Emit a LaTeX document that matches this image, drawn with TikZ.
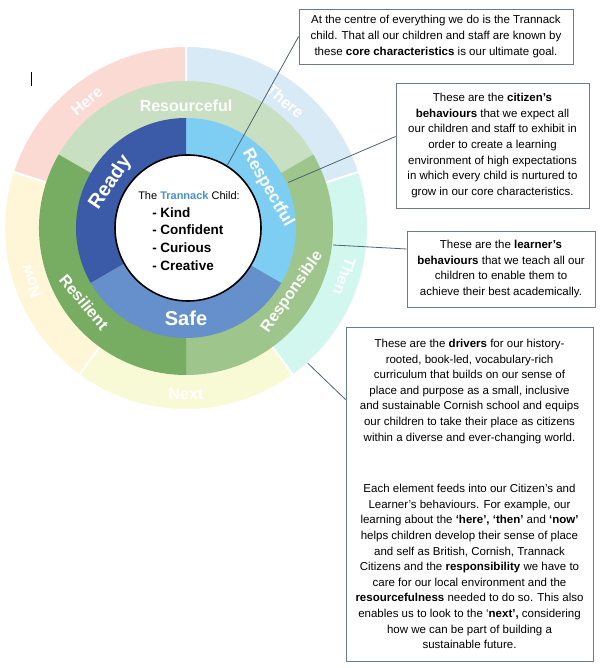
\documentclass[tikz,border=0pt]{standalone}
\usepackage{fontspec}
\setmainfont{Liberation Sans}
\usetikzlibrary{positioning}

\definecolor{readyblue}{HTML}{3B5BA9}
\definecolor{respectblue}{HTML}{7ECEF4}
\definecolor{safeblue}{HTML}{6690CB}
\definecolor{resourcegreen}{HTML}{C8DFC1}
\definecolor{responsiblegreen}{HTML}{9EC58C}
\definecolor{resilientgreen}{HTML}{76AD63}
\definecolor{herepink}{HTML}{FCDAD4}
\definecolor{thereblue}{HTML}{D8EAF5}
\definecolor{thenmint}{HTML}{D2F7EE}
\definecolor{nextyellow}{HTML}{F8FAD6}
\definecolor{nowcream}{HTML}{FEF6D6}
\definecolor{trannack}{HTML}{4A8FD8}
\definecolor{boxgray}{HTML}{6B7B89}
\definecolor{pointergray}{HTML}{4E6272}

\tikzstyle{outer_seg} = [
    draw=white,
    line width=2pt
]
\tikzstyle{outer_label} = [
    white,
    font=\bfseries\fontsize{16}{16}\selectfont,
    inner sep=0pt
]
\tikzstyle{middle_label} = [
    white,
    font=\bfseries\fontsize{16}{16}\selectfont,
    inner sep=0pt
]
\tikzstyle{inner_label} = [
    white,
    font=\bfseries\fontsize{20}{20}\selectfont,
    inner sep=0pt
]
\tikzstyle{child_node} = [
    circle,
    draw=black,
    fill=white,
    line width=1.6pt,
    inner sep=0pt,
    minimum size=146pt
]
\tikzstyle{info_box} = [
    draw=boxgray,
    fill=white,
    line width=0.8pt,
    align=center,
    inner sep=0pt,
    font=\fontsize{11.5}{15.6}\selectfont
]
\tikzstyle{pointer} = [
    draw=pointergray,
    line width=0.8pt
]

\begin{document}
\begin{tikzpicture}[x=1pt, y=1pt]
\useasboundingbox (0,0) rectangle (602,668);
\coordinate (C) at (186,440);

% drivers
\fill[herepink, outer_seg] (C) -- ++(90:182pt) arc[start angle=90, end angle=162, radius=182pt] -- cycle;
\fill[thereblue, outer_seg] (C) -- ++(18:182pt) arc[start angle=18, end angle=90, radius=182pt] -- cycle;
\fill[thenmint, outer_seg] (C) -- ++(-54:182pt) arc[start angle=-54, end angle=18, radius=182pt] -- cycle;
\fill[nextyellow, outer_seg] (C) -- ++(-126:182pt) arc[start angle=-126, end angle=-54, radius=182pt] -- cycle;
\fill[nowcream, outer_seg] (C) -- ++(162:182pt) arc[start angle=162, end angle=234, radius=182pt] -- cycle;

% learner's behaviours
\fill[resourcegreen] (C) -- ++(30:147pt) arc[start angle=30, end angle=150, radius=147pt] -- cycle;
\fill[responsiblegreen] (C) -- ++(-90:147pt) arc[start angle=-90, end angle=30, radius=147pt] -- cycle;
\fill[resilientgreen] (C) -- ++(150:147pt) arc[start angle=150, end angle=270, radius=147pt] -- cycle;

% citizen's behaviours
\fill[respectblue] (C) -- ++(-30:110pt) arc[start angle=-30, end angle=90, radius=110pt] -- cycle;
\fill[readyblue] (C) -- ++(90:110pt) arc[start angle=90, end angle=210, radius=110pt] -- cycle;
\fill[safeblue] (C) -- ++(210:110pt) arc[start angle=210, end angle=330, radius=110pt] -- cycle;

\node[child_node] (child) at (188,440) {};
\node[align=left, font=\bfseries\fontsize{13.5}{17.7}\selectfont] (traits) at (189,437) {%
    {\mdseries\fontsize{11}{16}\selectfont The \textcolor{trannack}{\bfseries Trannack} Child:}\\
    \hspace*{14pt}- Kind\\
    \hspace*{14pt}- Confident\\
    \hspace*{14pt}- Curious\\
    \hspace*{14pt}- Creative};

\node[outer_label, rotate=40] (here) at ([shift={(128:161pt)}]C) {Here};
\node[outer_label, rotate=-40] (there) at ([shift={(52:161pt)}]C) {There};
\node[outer_label, rotate=-110] (then) at ([shift={(-17:166pt)}]C) {Then};
\node[outer_label] (next) at ([shift={(-90:166pt)}]C) {Next};
\node[outer_label, rotate=110] (now) at ([shift={(199:164pt)}]C) {Now};

\node[middle_label] (resourceful) at ([shift={(90:122pt)}]C) {Resourceful};
\node[middle_label, rotate=55] (responsible) at ([shift={(-31:124pt)}]C) {Responsible};
\node[middle_label, rotate=-50] (resilient) at ([shift={(216:126pt)}]C) {Resilient};

\node[inner_label, rotate=56] (ready) at ([shift={(149:88pt)}]C) {Ready};
\node[inner_label, rotate=-60, font=\bfseries\fontsize{17}{17}\selectfont] (respectful) at ([shift={(26:91pt)}]C) {Respectful};
\node[inner_label] (safe) at ([shift={(-90:90pt)}]C) {Safe};

\node[info_box, minimum width=274pt, minimum height=55pt] (core) at (436,631.5) {%
    At the centre of everything we do is the Trannack\\
    child. That all our children and staff are known by\\
    these \textbf{core characteristics} is our ultimate goal.};
\node[info_box, minimum width=193pt, minimum height=125pt] (citizen) at (492.5,522.5) {%
    These are the \textbf{citizen’s}\\
    \textbf{behaviours} that we expect all\\
    our children and staff to exhibit in\\
    order to create a learning\\
    environment of high expectations\\
    in which every child is nurtured to\\
    grow in our core characteristics.};
\node[info_box, minimum width=188pt, minimum height=76pt] (learner) at (501,399) {%
    These are the \textbf{learner’s}\\
    \textbf{behaviours} that we teach all our\\
    children to enable them to\\
    achieve their best academically.};
\node[info_box, minimum width=247pt, minimum height=334pt] (drivers) at (469.5,174) {%
    These are the \textbf{drivers} for our history-\\
    rooted, book-led, vocabulary-rich\\
    curriculum that builds on our sense of\\
    place and purpose as a small, inclusive\\
    and sustainable Cornish school and equips\\
    our children to take their place as citizens\\
    within a diverse and ever-changing world.\\[36pt]
    Each element feeds into our Citizen’s and\\
    Learner’s behaviours. For example, our\\
    learning about the \textbf{‘here’, ‘then’} and \textbf{‘now’}\\
    helps children develop their sense of place\\
    and self as British, Cornish, Trannack\\
    Citizens and the \textbf{responsibility} we have to\\
    care for our local environment and the\\
    \textbf{resourcefulness} needed to do so. This also\\
    enables us to look to the ‘\textbf{next’,} considering\\
    how we can be part of building a\\
    sustainable future.};

\coordinate (citizen_ring) at ([shift={(24:112pt)}]C);
\coordinate (learner_ring) at ([shift={(-6.6:148pt)}]C);
\coordinate (drivers_ring) at ([shift={(-48:182pt)}]C);

\draw[pointer] (core.west) -- (child.58);
\draw[pointer] ([yshift=9pt]citizen.west) -- (citizen_ring);
\draw[pointer] ([yshift=20pt]learner.west) -- (learner_ring);
\draw[pointer] ([yshift=-73pt]drivers.north west) -- (drivers_ring);

\draw[line width=0.7pt] (31,582) -- (31,596); % stray cursor mark
\end{tikzpicture}
\end{document}
